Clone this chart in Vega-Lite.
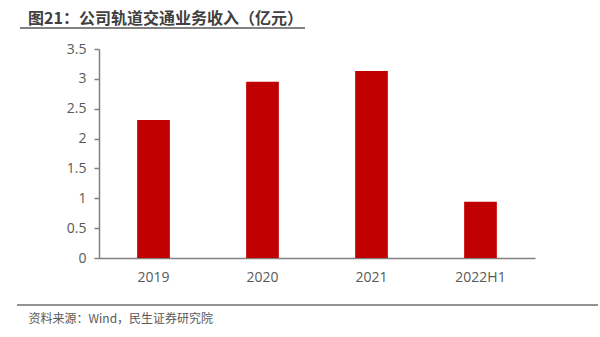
{
  "$schema": "https://vega.github.io/schema/vega-lite/v6.json",
  "width": 436,
  "height": 209,
  "autosize": "none",
  "padding": {"left": 99, "top": 49, "right": 65, "bottom": 79},
  "background": "white",
  "title": {
    "text": "图21：公司轨道交通业务收入（亿元）",
    "anchor": "start",
    "frame": "group",
    "dx": -71,
    "offset": 0,
    "font": "Noto Sans CJK SC",
    "fontSize": 16,
    "fontWeight": "bold",
    "color": "#404040"
  },
  "config": {"view": {"stroke": null}, "font": "Open Sans"},
  "layer": [
    {
      "data": {
        "values": [
          {"period": "2019", "revenue": 2.31},
          {"period": "2020", "revenue": 2.95},
          {"period": "2021", "revenue": 3.13},
          {"period": "2022H1", "revenue": 0.94}
        ]
      },
      "mark": {"type": "bar", "color": "#C00000"},
      "encoding": {
        "x": {
          "field": "period",
          "type": "ordinal",
          "sort": null,
          "scale": {"paddingInner": 0.7, "paddingOuter": 0.35},
          "axis": {
            "title": "资料来源：Wind，民生证券研究院",
            "labelAngle": 0,
            "ticks": false,
            "domainColor": "#808080",
            "domainWidth": 1.5,
            "labelFont": "Open Sans",
            "labelFontSize": 14,
            "labelColor": "#595959",
            "labelPadding": 12,
            "titleFont": "Noto Sans CJK SC",
            "titleFontSize": 12,
            "titleFontWeight": "normal",
            "titleColor": "#595959",
            "titleAnchor": "start",
            "titleAlign": "left",
            "titleBaseline": "middle",
            "titleX": -71,
            "titleY": 60
          }
        },
        "y": {
          "field": "revenue",
          "type": "quantitative",
          "scale": {"domain": [0, 3.5], "nice": false},
          "axis": {
            "title": null,
            "values": [0, 0.5, 1, 1.5, 2, 2.5, 3, 3.5],
            "format": ".1~f",
            "labelOverlap": false,
            "grid": false,
            "domainColor": "#808080",
            "domainWidth": 1.5,
            "tickColor": "#808080",
            "tickSize": 5,
            "tickWidth": 1.5,
            "labelFont": "Open Sans",
            "labelFontSize": 14,
            "labelColor": "#595959",
            "labelPadding": 8
          }
        }
      }
    },
    {
      "data": {"values": [{}]},
      "mark": {"type": "rule", "color": "#595959", "strokeWidth": 1.5, "clip": false},
      "encoding": {
        "x": {"datum": -0.1812, "type": "quantitative", "scale": {"domain": [0, 1]}, "axis": null},
        "x2": {"datum": 0.4725},
        "y": {
          "datum": 3.852,
          "type": "quantitative",
          "axis": {
            "title": null,
            "values": [0, 0.5, 1, 1.5, 2, 2.5, 3, 3.5],
            "format": ".1~f",
            "labelOverlap": false,
            "grid": false,
            "domainColor": "#808080",
            "domainWidth": 1.5,
            "tickColor": "#808080",
            "tickSize": 5,
            "tickWidth": 1.5,
            "labelFont": "Open Sans",
            "labelFontSize": 14,
            "labelColor": "#595959",
            "labelPadding": 8
          }
        }
      }
    },
    {
      "data": {"values": [{}]},
      "mark": {"type": "rule", "color": "#6f6f6f", "strokeWidth": 1.5, "clip": false},
      "encoding": {
        "x": {"datum": -0.188, "type": "quantitative", "scale": {"domain": [0, 1]}, "axis": null},
        "x2": {"datum": 1.1445},
        "y": {
          "datum": -0.787,
          "type": "quantitative",
          "axis": {
            "title": null,
            "values": [0, 0.5, 1, 1.5, 2, 2.5, 3, 3.5],
            "format": ".1~f",
            "labelOverlap": false,
            "grid": false,
            "domainColor": "#808080",
            "domainWidth": 1.5,
            "tickColor": "#808080",
            "tickSize": 5,
            "tickWidth": 1.5,
            "labelFont": "Open Sans",
            "labelFontSize": 14,
            "labelColor": "#595959",
            "labelPadding": 8
          }
        }
      }
    }
  ],
  "resolve": {"scale": {"x": "independent"}}
}
